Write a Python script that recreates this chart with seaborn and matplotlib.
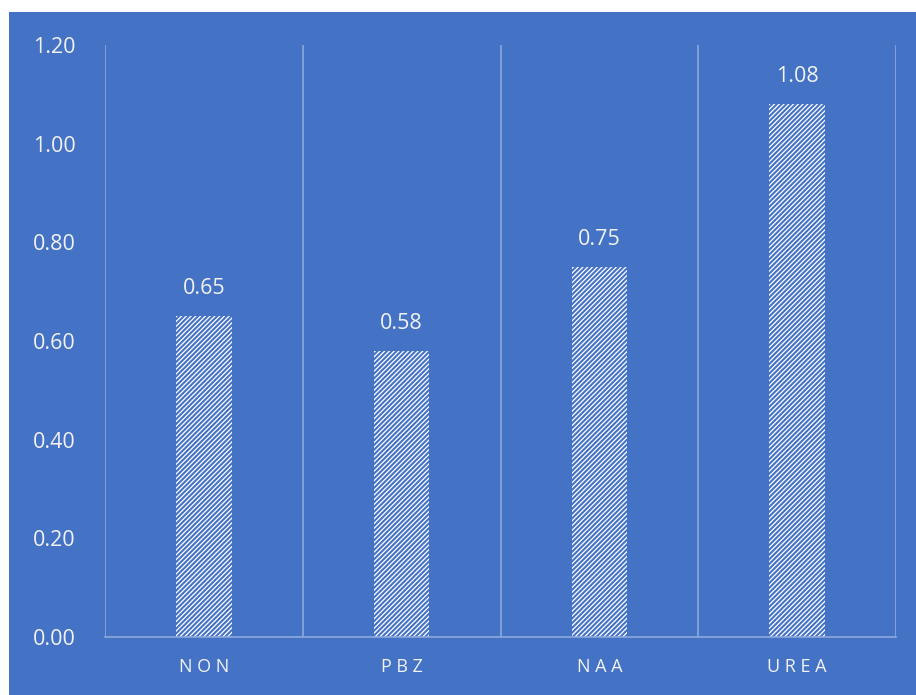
import matplotlib
matplotlib.use("Agg")
import matplotlib.pyplot as plt
import seaborn as sns
import pandas as pd
from matplotlib.patches import Rectangle

categories = ["NON", "PBZ", "NAA", "UREA"]
values = [0.65, 0.58, 0.75, 1.08]
yticks = [0.00, 0.20, 0.40, 0.60, 0.80, 1.00, 1.20]

BLUE = "#4472C4"
GRID = "#8EA9DB"
TEXT = "#F2F2F2"

sns.set_theme(style="white")
plt.rcParams["font.family"] = ["Open Sans", "DejaVu Sans"]
plt.rcParams["hatch.linewidth"] = 1.5
plt.rcParams["hatch.color"] = BLUE

df = pd.DataFrame({"group": categories, "value": values})

fig = plt.figure(figsize=(9.16, 6.95), dpi=100)
fig.patch.set_facecolor("white")
fig.add_artist(Rectangle((9 / 916, 0), 1 - 9 / 916, 1 - 12 / 695,
                         transform=fig.transFigure, facecolor=BLUE,
                         edgecolor="none", zorder=-10))

ax = fig.add_axes([105 / 916, 1 - 637 / 695, (896 - 105) / 916, (637 - 45) / 695])
ax.set_facecolor("none")

sns.barplot(data=df, x="group", y="value", ax=ax, color="white",
            width=0.28, saturation=1, edgecolor="white", linewidth=0)
for bar in ax.patches:
    bar.set_hatch("///////")
    bar.set_edgecolor(BLUE)
    bar.set_linewidth(0)

for bar, v in zip(ax.patches, values):
    ax.text(bar.get_x() + bar.get_width() / 2, v + 0.035, f"{v:.2f}",
            ha="center", va="bottom", color=TEXT, fontsize=15.5)

ax.set_xlim(-0.5, len(categories) - 0.5)
ax.set_ylim(0, 1.2)
ax.set_yticks(yticks)
ax.set_yticklabels([f"{t:.2f}" for t in yticks], color=TEXT, fontsize=15.5)
ax.set_xticks(range(len(categories)))
ax.set_xticklabels([" ".join(list(c)) for c in categories],
                   color=TEXT, fontsize=13)
ax.tick_params(axis="both", length=0)
ax.tick_params(axis="y", pad=52)
ax.tick_params(axis="x", pad=15)
for lab in ax.get_yticklabels():
    lab.set_horizontalalignment("left")

for x in [i - 0.5 for i in range(len(categories) + 1)]:
    ax.axvline(x, color=GRID, linewidth=1.2, zorder=0.5)

for s in ["top", "right", "left"]:
    ax.spines[s].set_visible(False)
ax.spines["bottom"].set_color(GRID)
ax.spines["bottom"].set_linewidth(1.2)

ax.set_xlabel("")
ax.set_ylabel("")

fig.savefig("out.png", dpi=100)
